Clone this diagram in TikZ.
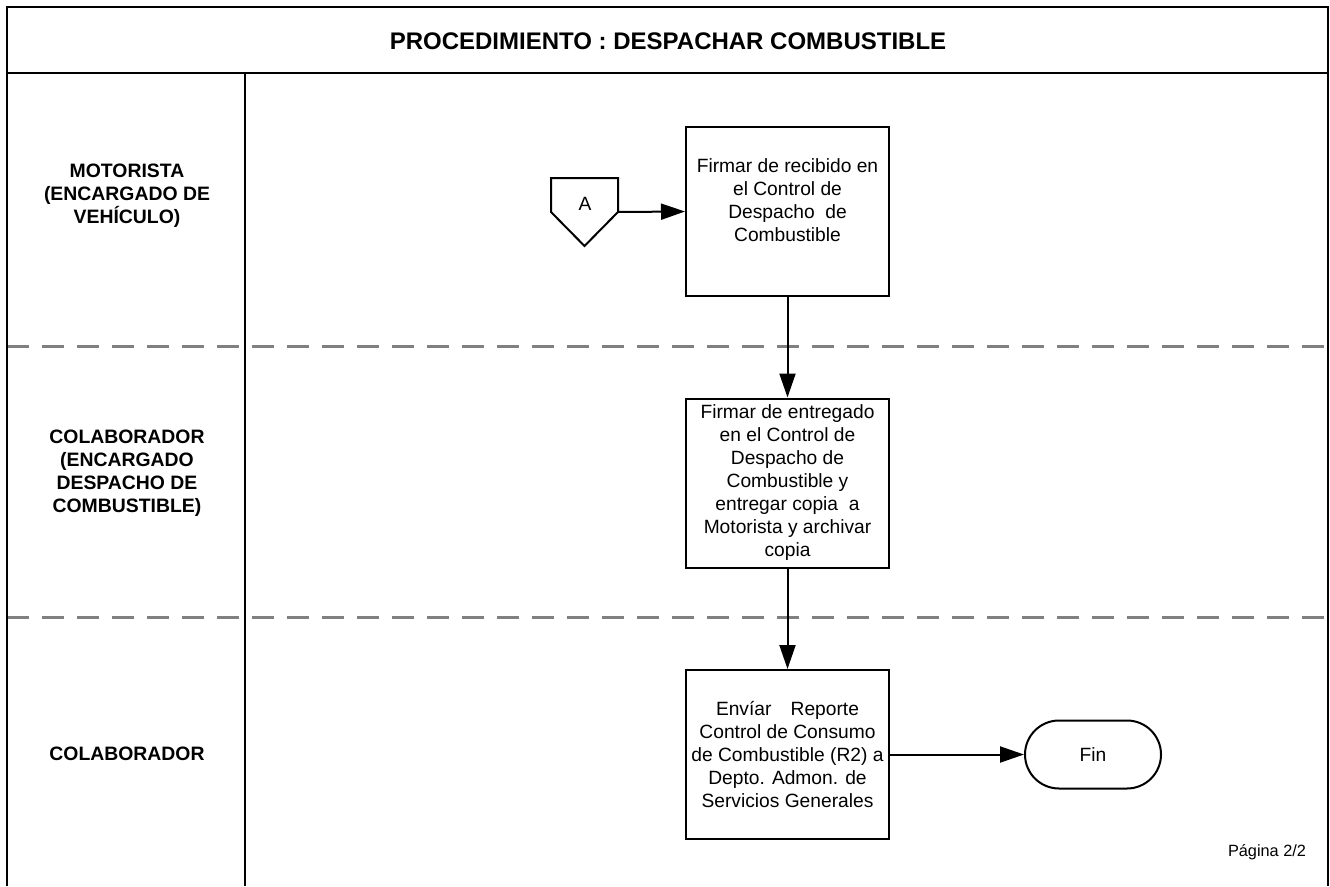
\documentclass[tikz,border=0pt]{standalone}
\usepackage{fontspec}
\setmainfont{Liberation Sans}
\usetikzlibrary{arrows.meta}
\definecolor{lanegray}{RGB}{128,128,128}
\begin{document}
\begin{tikzpicture}[x=1pt,y=-1pt,
  frame/.style={line width=2pt, black},
  lanesep/.style={line width=3pt, lanegray, dash pattern=on 22pt off 13pt},
  proc/.style={draw, line width=2pt, minimum width=203pt, minimum height=169pt, align=center, inner sep=2pt, font=\fontsize{19.2}{23}\selectfont},
  lanelbl/.style={align=center, font=\bfseries\fontsize{19.4}{23}\selectfont},
  flow/.style={line width=2pt, -{Triangle[length=24pt,width=16pt]}},
  term/.style={draw, line width=2pt, rounded corners=34pt, minimum width=136pt, minimum height=68pt, font=\fontsize{19.2}{23}\selectfont},
  offpage/.style={line width=2pt, line join=miter},
  plain/.style={font=\fontsize{19.2}{23}\selectfont}
]
\useasboundingbox (0,0) rectangle (1330,886);
% lane separators
\draw[lanesep] (7,346) -- (1328,346);
\draw[lanesep] (7,617) -- (1328,617);
% frame
\draw[frame] (7,886) -- (7,7) -- (1328,7) -- (1328,886);
\draw[frame] (7,73) -- (1328,73);
\draw[frame] (245,73) -- (245,886);
% title
\node[font=\bfseries\fontsize{24}{28}\selectfont] (title) at (668,41) {PROCEDIMIENTO : DESPACHAR COMBUSTIBLE};
% lane labels
\node[lanelbl] (lane1) at (127,196) {MOTORISTA\\(ENCARGADO DE\\VEHÍCULO)};
\node[lanelbl] (lane2) at (127,473.5) {COLABORADOR\\(ENCARGADO\\DESPACHO DE\\COMBUSTIBLE)};
\node[lanelbl] (lane3) at (127,754) {COLABORADOR};
% off-page connector A
\draw[offpage] (551,178) -- (618,178) -- (618,212) -- (584.5,246) -- (551,212) -- cycle;
\node[plain] (conA) at (585,204) {A};
\coordinate (aout) at (618,212);
% process boxes
\node[proc] (p1) at (787.5,211.5) {Firmar de recibido en\\el Control de\\Despacho\ \ de\\Combustible\\\mbox{}};
\node[proc] (p2) at (787.5,483) {Firmar de entregado\\en el Control de\\Despacho de\\Combustible y\\entregar copia\ \ a\\Motorista y archivar\\copia};
\node[proc] (p3) at (787.5,754.5) {Envíar\quad Reporte\\Control de Consumo\\de Combustible (R2) a\\Depto. Admon. de\\Servicios Generales};
\node[term] (fin) at (1093,754.5) {Fin};
% page number
\node[font=\fontsize{16.3}{19}\selectfont] (page) at (1267,852) {Página 2/2};
% connectors
\draw[flow] (aout) -- (p1.west);
\draw[flow] (p1.south) -- (p2.north);
\draw[flow] (p2.south) -- (p3.north);
\draw[flow] (p3.east) -- (fin.west);
\end{tikzpicture}
\end{document}
